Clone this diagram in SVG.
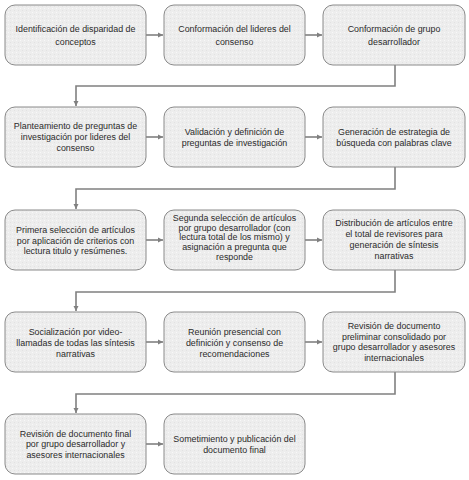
<svg xmlns="http://www.w3.org/2000/svg" width="469" height="480" viewBox="0 0 469 480">
<defs>
<pattern id="stip" width="4" height="4" patternUnits="userSpaceOnUse">
<rect width="4" height="4" fill="#ededed"/>
<rect x="0" y="0" width="1" height="1" fill="#f8f8f8"/>
<rect x="2" y="2" width="1" height="1" fill="#e2e2e2"/>
</pattern>
<marker id="ah" markerWidth="6" markerHeight="6" refX="5" refY="3" orient="auto" markerUnits="userSpaceOnUse">
<path d="M0,0.5 L5,3 L0,5.5 Z" fill="#808080"/>
</marker>
</defs>
<style>
.box{fill:url(#stip);stroke:#8a8a8a;stroke-width:1}
.t{font-family:"Liberation Sans",Arial,sans-serif;font-size:8.9px;fill:#2b2b2b;text-anchor:middle}
.c{fill:none;stroke:#808080;stroke-width:1.6}
</style>
<rect width="469" height="480" fill="#ffffff"/>
<g id="connectors">
<line class="c" x1="146" y1="35" x2="163" y2="35" marker-end="url(#ah)"/>
<line class="c" x1="305" y1="35" x2="322" y2="35" marker-end="url(#ah)"/>
<polyline class="c" points="395,65 395,86 76,86 76,106" marker-end="url(#ah)"/>
<line class="c" x1="146" y1="137" x2="163" y2="137" marker-end="url(#ah)"/>
<line class="c" x1="305" y1="137" x2="322" y2="137" marker-end="url(#ah)"/>
<polyline class="c" points="395,167 395,189 76,189 76,209" marker-end="url(#ah)"/>
<line class="c" x1="146" y1="240" x2="163" y2="240" marker-end="url(#ah)"/>
<line class="c" x1="305" y1="240" x2="322" y2="240" marker-end="url(#ah)"/>
<polyline class="c" points="395,270 395,292 76,292 76,311" marker-end="url(#ah)"/>
<line class="c" x1="146" y1="342" x2="163" y2="342" marker-end="url(#ah)"/>
<line class="c" x1="305" y1="342" x2="322" y2="342" marker-end="url(#ah)"/>
<polyline class="c" points="395,372 395,394 76,394 76,413" marker-end="url(#ah)"/>
<line class="c" x1="146" y1="444" x2="163" y2="444" marker-end="url(#ah)"/>
</g>
<g id="n1"><rect class="box" x="5" y="5" width="141" height="60" rx="10"/>
<text class="t" x="75.5" y="32">Identificación de disparidad de</text><text class="t" x="75.5" y="44.7">conceptos</text></g>
<g id="n2"><rect class="box" x="164" y="5" width="141" height="60" rx="10"/>
<text class="t" x="234.5" y="32">Conformación del lideres del</text><text class="t" x="234.5" y="44.7">consenso</text></g>
<g id="n3"><rect class="box" x="323" y="5" width="142" height="60" rx="10"/>
<text class="t" x="394" y="32">Conformación de grupo</text><text class="t" x="394" y="44.7">desarrollador</text></g>

<g id="n4"><rect class="box" x="5" y="107" width="141" height="60" rx="10"/>
<text class="t" x="75.5" y="129">Planteamiento de preguntas de</text><text class="t" x="75.5" y="140.2">investigación por lideres del</text><text class="t" x="75.5" y="151.4">consenso</text></g>
<g id="n5"><rect class="box" x="164" y="107" width="141" height="60" rx="10"/>
<text class="t" x="234.5" y="134.5">Validación y definición de</text><text class="t" x="234.5" y="145.5">preguntas de investigación</text></g>
<g id="n6"><rect class="box" x="323" y="107" width="142" height="60" rx="10"/>
<text class="t" x="394" y="134.5">Generación  de estrategia de</text><text class="t" x="394" y="145.5">búsqueda con palabras clave</text></g>

<g id="n7"><rect class="box" x="5" y="210" width="141" height="60" rx="10"/>
<text class="t" x="75.5" y="233">Primera selección de artículos</text><text class="t" x="75.5" y="243.5">por aplicación de criterios con</text><text class="t" x="75.5" y="254">lectura titulo y resúmenes.</text></g>
<g id="n8"><rect class="box" x="164" y="210" width="141" height="60" rx="10"/>
<text class="t" x="234.5" y="221">Segunda selección de artículos</text><text class="t" x="234.5" y="230.7">por grupo desarrollador (con</text><text class="t" x="234.5" y="240.4">lectura total de los mismo) y</text><text class="t" x="234.5" y="250.1">asignación a pregunta que</text><text class="t" x="234.5" y="259.8">responde</text></g>
<g id="n9"><rect class="box" x="323" y="210" width="142" height="60" rx="10"/>
<text class="t" x="394" y="226">Distribución de artículos entre</text><text class="t" x="394" y="237">el total de revisores para</text><text class="t" x="394" y="248">generación de síntesis</text><text class="t" x="394" y="259">narrativas</text></g>

<g id="n10"><rect class="box" x="5" y="312" width="141" height="60" rx="10"/>
<text class="t" x="75.5" y="335">Socialización por video-</text><text class="t" x="75.5" y="346">llamadas de todas las síntesis</text><text class="t" x="75.5" y="357">narrativas</text></g>
<g id="n11"><rect class="box" x="164" y="312" width="141" height="60" rx="10"/>
<text class="t" x="234.5" y="335">Reunión presencial con</text><text class="t" x="234.5" y="346">definición y consenso de</text><text class="t" x="234.5" y="357">recomendaciones</text></g>
<g id="n12"><rect class="box" x="323" y="312" width="142" height="60" rx="10"/>
<text class="t" x="394" y="329">Revisión de documento</text><text class="t" x="394" y="339.5">preliminar consolidado por</text><text class="t" x="394" y="350">grupo desarrollador y asesores</text><text class="t" x="394" y="360.5">internacionales</text></g>

<g id="n13"><rect class="box" x="5" y="414" width="141" height="60" rx="10"/>
<text class="t" x="75.5" y="436.5">Revisión de documento final</text><text class="t" x="75.5" y="447.3">por grupo desarrollador y</text><text class="t" x="75.5" y="458.1">asesores internacionales</text></g>
<g id="n14"><rect class="box" x="164" y="414" width="141" height="60" rx="10"/>
<text class="t" x="234.5" y="441.5">Sometimiento y publicación del</text><text class="t" x="234.5" y="452.5">documento final</text></g>
</svg>
